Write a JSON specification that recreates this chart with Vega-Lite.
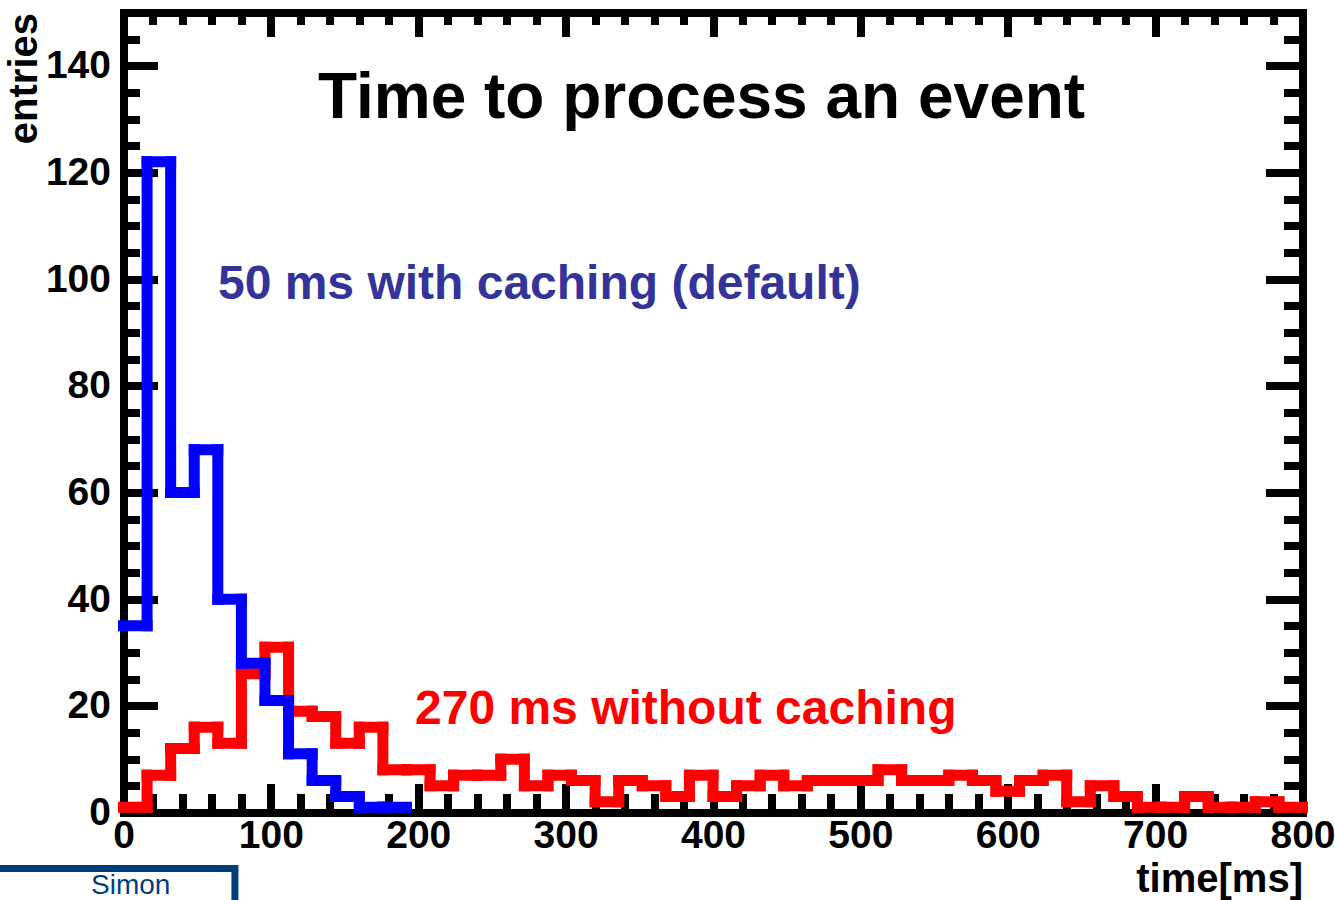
{
  "$schema": "https://vega.github.io/schema/vega-lite/v6.json",
  "width": 1179,
  "height": 800,
  "autosize": {"type": "none"},
  "padding": {"left": 123.5, "top": 12.5, "right": 32.5, "bottom": 87.5},
  "background": "white",
  "config": {
    "view": {"stroke": null},
    "axis": {"grid": false, "domainColor": "black", "tickColor": "black", "labelColor": "black", "titleColor": "black"}
  },
  "datasets": {
    "hist": [
      {"series": "without caching", "lo": 0, "hi": 16, "n": 1},
      {"series": "without caching", "lo": 16, "hi": 32, "n": 7},
      {"series": "without caching", "lo": 32, "hi": 48, "n": 12},
      {"series": "without caching", "lo": 48, "hi": 64, "n": 16},
      {"series": "without caching", "lo": 64, "hi": 80, "n": 13},
      {"series": "without caching", "lo": 80, "hi": 96, "n": 26},
      {"series": "without caching", "lo": 96, "hi": 112, "n": 31},
      {"series": "without caching", "lo": 112, "hi": 128, "n": 19},
      {"series": "without caching", "lo": 128, "hi": 144, "n": 18},
      {"series": "without caching", "lo": 144, "hi": 160, "n": 13},
      {"series": "without caching", "lo": 160, "hi": 176, "n": 16},
      {"series": "without caching", "lo": 176, "hi": 192, "n": 8},
      {"series": "without caching", "lo": 192, "hi": 208, "n": 8},
      {"series": "without caching", "lo": 208, "hi": 224, "n": 5},
      {"series": "without caching", "lo": 224, "hi": 240, "n": 7},
      {"series": "without caching", "lo": 240, "hi": 256, "n": 7},
      {"series": "without caching", "lo": 256, "hi": 272, "n": 10},
      {"series": "without caching", "lo": 272, "hi": 288, "n": 5},
      {"series": "without caching", "lo": 288, "hi": 304, "n": 7},
      {"series": "without caching", "lo": 304, "hi": 320, "n": 6},
      {"series": "without caching", "lo": 320, "hi": 336, "n": 2},
      {"series": "without caching", "lo": 336, "hi": 352, "n": 6},
      {"series": "without caching", "lo": 352, "hi": 368, "n": 5},
      {"series": "without caching", "lo": 368, "hi": 384, "n": 3},
      {"series": "without caching", "lo": 384, "hi": 400, "n": 7},
      {"series": "without caching", "lo": 400, "hi": 416, "n": 3},
      {"series": "without caching", "lo": 416, "hi": 432, "n": 5},
      {"series": "without caching", "lo": 432, "hi": 448, "n": 7},
      {"series": "without caching", "lo": 448, "hi": 464, "n": 5},
      {"series": "without caching", "lo": 464, "hi": 480, "n": 6},
      {"series": "without caching", "lo": 480, "hi": 496, "n": 6},
      {"series": "without caching", "lo": 496, "hi": 512, "n": 6},
      {"series": "without caching", "lo": 512, "hi": 528, "n": 8},
      {"series": "without caching", "lo": 528, "hi": 544, "n": 6},
      {"series": "without caching", "lo": 544, "hi": 560, "n": 6},
      {"series": "without caching", "lo": 560, "hi": 576, "n": 7},
      {"series": "without caching", "lo": 576, "hi": 592, "n": 6},
      {"series": "without caching", "lo": 592, "hi": 608, "n": 4},
      {"series": "without caching", "lo": 608, "hi": 624, "n": 6},
      {"series": "without caching", "lo": 624, "hi": 640, "n": 7},
      {"series": "without caching", "lo": 640, "hi": 656, "n": 2},
      {"series": "without caching", "lo": 656, "hi": 672, "n": 5},
      {"series": "without caching", "lo": 672, "hi": 688, "n": 3},
      {"series": "without caching", "lo": 688, "hi": 704, "n": 1},
      {"series": "without caching", "lo": 704, "hi": 720, "n": 1},
      {"series": "without caching", "lo": 720, "hi": 736, "n": 3},
      {"series": "without caching", "lo": 736, "hi": 752, "n": 1},
      {"series": "without caching", "lo": 752, "hi": 768, "n": 1},
      {"series": "without caching", "lo": 768, "hi": 784, "n": 2},
      {"series": "without caching", "lo": 784, "hi": 800, "n": 1},
      {"series": "with caching", "lo": 0, "hi": 16, "n": 35},
      {"series": "with caching", "lo": 16, "hi": 32, "n": 122},
      {"series": "with caching", "lo": 32, "hi": 48, "n": 60},
      {"series": "with caching", "lo": 48, "hi": 64, "n": 68},
      {"series": "with caching", "lo": 64, "hi": 80, "n": 40},
      {"series": "with caching", "lo": 80, "hi": 96, "n": 28},
      {"series": "with caching", "lo": 96, "hi": 112, "n": 21},
      {"series": "with caching", "lo": 112, "hi": 128, "n": 11},
      {"series": "with caching", "lo": 128, "hi": 144, "n": 6},
      {"series": "with caching", "lo": 144, "hi": 160, "n": 3},
      {"series": "with caching", "lo": 160, "hi": 176, "n": 1},
      {"series": "with caching", "lo": 176, "hi": 192, "n": 1}
    ]
  },
  "resolve": {"axis": {"x": "independent", "y": "independent"}},
  "layer": [
    {
      "data": {"name": "hist"},
      "transform": [{"filter": "datum.series === 'without caching'"}],
      "mark": {"type": "rule", "strokeWidth": 11, "strokeCap": "square", "color": "#ff0000"},
      "encoding": {
        "x": {"field": "lo", "type": "quantitative", "scale": {"domain": [0, 800], "nice": false, "zero": false},
          "axis": {"orient": "bottom", "values": [0, 100, 200, 300, 400, 500, 600, 700, 800], "ticks": false, "domain": true, "domainWidth": 8, "domainCap": "square",
            "labelFont": "Liberation Sans, Arial, sans-serif", "labelFontSize": 39, "labelFontWeight": "bold", "labelPadding": 4, "labelFlush": false, "labelOverlap": false,
            "title": "time[ms]", "titleFont": "Liberation Sans, Arial, sans-serif", "titleFontSize": 40, "titleFontWeight": "bold", "titleAnchor": "end", "titlePadding": 4}},
        "x2": {"field": "hi"},
        "y": {"field": "n", "type": "quantitative", "scale": {"domain": [0, 150], "nice": false},
          "axis": {"orient": "left", "values": [0, 20, 40, 60, 80, 100, 120, 140], "ticks": false, "domain": true, "domainWidth": 8, "domainCap": "square",
            "labelFont": "Liberation Sans, Arial, sans-serif", "labelFontSize": 39, "labelFontWeight": "bold", "labelPadding": 13, "labelFlush": false, "labelOverlap": false,
            "title": "entries", "titleFont": "Liberation Sans, Arial, sans-serif", "titleFontSize": 40, "titleFontWeight": "bold", "titleAnchor": "end", "titlePadding": 1}}
      }
    },
    {
      "data": {"name": "hist"},
      "transform": [
        {"filter": "datum.series === 'without caching'"},
        {"window": [{"op": "lag", "field": "n", "as": "prev"}], "sort": [{"field": "lo"}]}
      ],
      "mark": {"type": "rule", "strokeWidth": 11, "strokeCap": "square", "color": "#ff0000"},
      "encoding": {
        "x": {"field": "lo", "type": "quantitative",
          "axis": {"orient": "bottom", "values": [0, 100, 200, 300, 400, 500, 600, 700, 800], "domain": false, "labels": false, "ticks": true, "tickSize": -29, "tickWidth": 8, "title": null}},
        "y": {"field": "prev", "type": "quantitative",
          "axis": {"orient": "left", "values": [0, 20, 40, 60, 80, 100, 120, 140], "domain": false, "labels": false, "ticks": true, "tickSize": -34, "tickWidth": 8, "title": null}},
        "y2": {"field": "n"}
      }
    },
    {
      "data": {"name": "hist"},
      "transform": [{"filter": "datum.series === 'with caching'"}],
      "mark": {"type": "rule", "strokeWidth": 11, "strokeCap": "square", "color": "#0000ff"},
      "encoding": {
        "x": {"field": "lo", "type": "quantitative",
          "axis": {"orient": "bottom", "values": [0, 20, 40, 60, 80, 120, 140, 160, 180, 220, 240, 260, 280, 320, 340, 360, 380, 420, 440, 460, 480, 520, 540, 560, 580, 620, 640, 660, 680, 720, 740, 760, 780], "domain": false, "labels": false, "ticks": true, "tickSize": -19, "tickWidth": 8, "title": null}},
        "x2": {"field": "hi"},
        "y": {"field": "n", "type": "quantitative",
          "axis": {"orient": "left", "values": [5, 10, 15, 25, 30, 35, 45, 50, 55, 65, 70, 75, 85, 90, 95, 105, 110, 115, 125, 130, 135, 145], "domain": false, "labels": false, "ticks": true, "tickSize": -16, "tickWidth": 8, "title": null}}
      }
    },
    {
      "data": {"name": "hist"},
      "transform": [
        {"filter": "datum.series === 'with caching'"},
        {"window": [{"op": "lag", "field": "n", "as": "prev"}], "sort": [{"field": "lo"}]}
      ],
      "mark": {"type": "rule", "strokeWidth": 11, "strokeCap": "square", "color": "#0000ff"},
      "encoding": {
        "x": {"field": "lo", "type": "quantitative",
          "axis": {"orient": "top", "values": [0, 100, 200, 300, 400, 500, 600, 700, 800], "domain": true, "domainWidth": 8, "domainCap": "square", "labels": false, "ticks": true, "tickSize": -24, "tickWidth": 8, "title": null}},
        "y": {"field": "prev", "type": "quantitative",
          "axis": {"orient": "right", "values": [0, 20, 40, 60, 80, 100, 120, 140], "domain": true, "domainWidth": 8, "domainCap": "square", "labels": false, "ticks": true, "tickSize": -37, "tickWidth": 8, "title": null}},
        "y2": {"field": "n"}
      }
    },
    {
      "data": {"values": [{"label": "Time to process an event"}]},
      "mark": {"type": "text", "align": "left", "baseline": "alphabetic", "font": "Liberation Sans, Arial, sans-serif", "fontWeight": "bold", "fontSize": 64, "color": "black"},
      "encoding": {
        "text": {"field": "label"},
        "x": {"datum": 132, "type": "quantitative",
          "axis": {"orient": "top", "values": [20, 40, 60, 80, 120, 140, 160, 180, 220, 240, 260, 280, 320, 340, 360, 380, 420, 440, 460, 480, 520, 540, 560, 580, 620, 640, 660, 680, 720, 740, 760, 780], "domain": false, "labels": false, "ticks": true, "tickSize": -12, "tickWidth": 8, "title": null}},
        "y": {"datum": 130.2, "type": "quantitative",
          "axis": {"orient": "right", "values": [5, 10, 15, 25, 30, 35, 45, 50, 55, 65, 70, 75, 85, 90, 95, 105, 110, 115, 125, 130, 135, 145], "domain": false, "labels": false, "ticks": true, "tickSize": -19, "tickWidth": 8, "title": null}}
      }
    },
    {
      "data": {"values": [{"label": "50 ms with caching (default)"}]},
      "mark": {"type": "text", "align": "left", "baseline": "alphabetic", "font": "Liberation Sans, Arial, sans-serif", "fontWeight": "bold", "fontSize": 48, "color": "#333399"},
      "encoding": {
        "text": {"field": "label"},
        "x": {"datum": 64.1, "type": "quantitative", "axis": null},
        "y": {"datum": 96.3, "type": "quantitative", "axis": null}
      }
    },
    {
      "data": {"values": [{"label": "270 ms without caching"}]},
      "mark": {"type": "text", "align": "left", "baseline": "alphabetic", "font": "Liberation Sans, Arial, sans-serif", "fontWeight": "bold", "fontSize": 48, "color": "#ff0000"},
      "encoding": {
        "text": {"field": "label"},
        "x": {"datum": 197.8, "type": "quantitative", "axis": null},
        "y": {"datum": 16.6, "type": "quantitative", "axis": null}
      }
    },
    {
      "data": {"values": [{"label": "logo"}]},
      "mark": {"type": "rect", "fill": null, "fillOpacity": 0, "stroke": "#003d7c", "strokeWidth": 7},
      "encoding": {
        "x": {"datum": -91, "type": "quantitative", "axis": null},
        "x2": {"datum": 75.6},
        "y": {"datum": -10.5, "type": "quantitative", "axis": null},
        "y2": {"datum": -20}
      }
    },
    {
      "data": {"values": [{"label": "Simon"}]},
      "mark": {"type": "text", "align": "left", "baseline": "alphabetic", "font": "Liberation Sans, Arial, sans-serif", "fontSize": 28, "color": "#003d7c"},
      "encoding": {
        "text": {"field": "label"},
        "x": {"datum": -22, "type": "quantitative", "axis": null},
        "y": {"datum": -15.3, "type": "quantitative", "axis": null}
      }
    }
  ]
}
